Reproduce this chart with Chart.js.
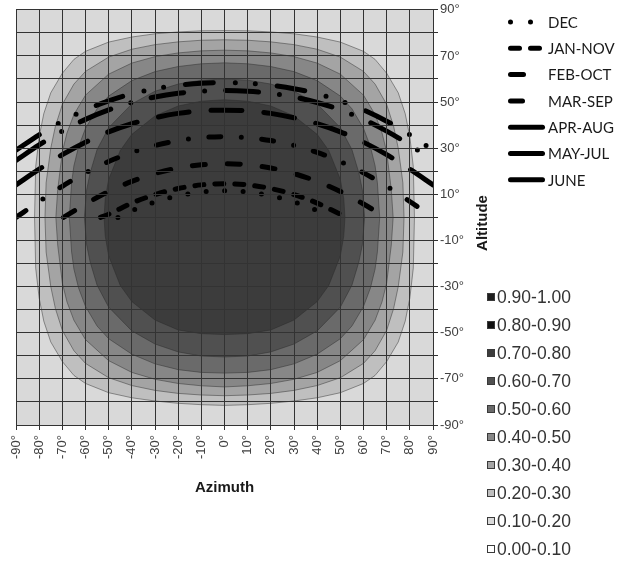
<!DOCTYPE html>
<html>
<head>
<meta charset="utf-8">
<script src="https://cdn.jsdelivr.net/npm/chart.js@4.4.0/dist/chart.umd.min.js"></script>
<style>
  html, body { margin: 0; padding: 0; background: #fff; }
</style>
</head>
<body>
<canvas id="chart" width="619" height="562"></canvas>
<script>
// sun paths, legend order
const months = ['DEC', 'JAN-NOV', 'FEB-OCT', 'MAR-SEP', 'APR-AUG', 'MAY-JUL', 'JUNE'];

const azFull = [-90, -80, -70, -60, -50, -40, -30, -20, -10, 0, 10, 20, 30, 40, 50, 60, 70, 80, 90];
const juneAlt = [29.1, 35.8, 41.7, 46.6, 50.5, 53.6, 55.8, 57.3, 58.2, 58.4, 58.2, 57.3, 55.8, 53.6, 50.5, 46.6, 41.7, 35.8, 29.1];
const mayJulAlt = [24.7, 31.4, 37.4, 42.5, 46.6, 49.8, 52.2, 53.8, 54.7, 55, 54.7, 53.8, 52.2, 49.8, 46.6, 42.5, 37.4, 31.4, 24.7];
const aprAugAlt = [14.1, 20.9, 27.2, 32.6, 37.1, 40.6, 43.2, 45.1, 46.2, 46.5, 46.2, 45.1, 43.2, 40.6, 37.1, 32.6, 27.2, 20.9, 14.1];
const marSepAlt = [0, 6.9, 13.5, 19.3, 24.2, 28.2, 31.2, 33.3, 34.6, 35, 34.6, 33.3, 31.2, 28.2, 24.2, 19.3, 13.5, 6.9, 0];
const febOctAz = [-69.5, -60, -50, -40, -30, -20, -10, 0, 10, 20, 30, 40, 50, 60, 69.5];
const febOctAlt = [0, 5.8, 11.2, 15.6, 19, 21.4, 22.8, 23.3, 22.8, 21.4, 19, 15.6, 11.2, 5.8, 0];
const janNovAz = [-53.5, -50, -40, -30, -20, -10, 0, 10, 20, 30, 40, 50, 53.5];
const janNovAlt = [0, 1.4, 6.2, 9.9, 12.5, 14.1, 14.6, 14.1, 12.5, 9.9, 6.2, 1.4, 0];
const decAz = [-46, -40, -30, -20, -10, 0, 10, 20, 30, 40, 46];
const decAlt = [0, 2.9, 6.7, 9.4, 11, 11.6, 11, 9.4, 6.7, 2.9, 0];

// contour bands (legend classes, top to bottom)
const bandLabels = ['0.90-1.00', '0.80-0.90', '0.70-0.80', '0.60-0.70', '0.50-0.60',
                    '0.40-0.50', '0.30-0.40', '0.20-0.30', '0.10-0.20', '0.00-0.10'];

// contour lines: upper / lower altitude along azimuth
const c20Az = [-82, -81.5, -80, -78, -75, -70, -65, -60, -50, -40, -30, -20, -10, 0, 10, 20, 30, 40, 50, 60, 65, 70, 75, 78, 80, 81.5, 82];
const c20Up = [0, 22, 35, 45, 54, 62.5, 68.5, 72, 76, 78.2, 79.6, 80.4, 80.9, 81, 80.9, 80.4, 79.6, 78.2, 76, 72, 68.5, 62.5, 54, 45, 35, 22, 0];
const c20Lo = [0, -22, -35, -45, -54, -62.5, -68.5, -72, -76, -78.2, -79.6, -80.6, -81.2, -81.5, -81.2, -80.6, -79.6, -78.2, -76, -72, -68.5, -62.5, -54, -45, -35, -22, 0];

const c30Az = [-77.5, -77, -75, -73, -70, -65, -60, -50, -40, -30, -20, -10, 0, 10, 20, 30, 40, 50, 60, 65, 70, 73, 75, 77, 77.5];
const c30Up = [0, 15, 30, 39.5, 49, 57.8, 63.3, 69.5, 72.9, 74.9, 76.1, 76.8, 77, 76.8, 76.1, 74.9, 72.9, 69.5, 63.3, 57.8, 49, 39.5, 30, 15, 0];
const c30Lo = [0, -15, -30, -39.5, -49, -57.8, -63.3, -69.5, -72.9, -75, -76.3, -77, -77.3, -77, -76.3, -75, -72.9, -69.5, -63.3, -57.8, -49, -39.5, -30, -15, 0];

const c40Az = [-72.8, -72, -70, -68, -65, -60, -50, -40, -30, -20, -10, 0, 10, 20, 30, 40, 50, 60, 65, 68, 70, 72, 72.8];
const c40Up = [0, 12, 28.5, 36.6, 44.6, 53, 62.1, 66.9, 69.7, 71.3, 72.2, 72.5, 72.2, 71.3, 69.7, 66.9, 62.1, 53, 44.6, 36.6, 28.5, 12, 0];
const c40Lo = [0, -12, -28.5, -36.6, -44.6, -53, -62.1, -67.2, -70.2, -72, -73, -73.5, -73, -72, -70.2, -67.2, -62.1, -53, -44.6, -36.6, -28.5, -12, 0];

const c50Az = [-67, -66, -65, -63, -60, -55, -50, -40, -30, -20, -10, 0, 10, 20, 30, 40, 50, 55, 60, 63, 65, 66, 67];
const c50Up = [0, 15, 22.4, 30.6, 38.6, 47.1, 52.6, 59.3, 63.2, 65.4, 66.6, 67, 66.6, 65.4, 63.2, 59.3, 52.6, 47.1, 38.6, 30.6, 22.4, 15, 0];
const c50Lo = [0, -15, -22.4, -30.6, -38.6, -47.1, -52.6, -59.3, -63.5, -66, -67.2, -67.5, -67.2, -66, -63.5, -59.3, -52.6, -47.1, -38.6, -30.6, -22.4, -15, 0];

const c60Az = [-60.5, -59.5, -58, -55, -50, -40, -30, -20, -10, 0, 10, 20, 30, 40, 50, 55, 58, 59.5, 60.5];
const c60Up = [0, 12, 19.3, 29.4, 38.9, 49.2, 54.7, 57.8, 59.5, 60, 59.5, 57.8, 54.7, 49.2, 38.9, 29.4, 19.3, 12, 0];
const c60Lo = [0, -12, -19.3, -29.4, -38.9, -49.2, -54.9, -58.3, -60.1, -60.5, -60.1, -58.3, -54.9, -49.2, -38.9, -29.4, -19.3, -12, 0];

const c70Az = [-52, -51.5, -50, -45, -40, -30, -20, -10, 0, 10, 20, 30, 40, 45, 50, 51.5, 52];
const c70Up = [0, 8, 16.5, 29, 36, 44, 48.3, 50.4, 51, 50.4, 48.3, 44, 36, 29, 16.5, 8, 0];
const c70Lo = [0, -8, -16.7, -29.5, -36.5, -44.5, -48.8, -50.4, -50.8, -50.4, -48.8, -44.5, -36.5, -29.5, -16.7, -8, 0];

// styles
const bandColors = ['#1e1e1e', '#111111', '#3c3c3c', '#505050', '#6a6a6a',
                    '#878787', '#a4a4a4', '#bfbfbf', '#d9d9d9', '#ffffff'];
const sunDash = [[0, 18.5], [9, 11], [13, 22], [12, 20.5, 0, 20.5], [31, 22], [33, 21, 0, 21], [28, 22, 0, 20, 0, 22]];
const legendDash = [[0, 20], [9, 11], [], [], [], [], []];
const legendLen = [20.5, 30, 13, 12, 32, 32, 32];

const pts = (xs, ys) => xs.map((x, i) => ({x: x, y: ys[i]}));

const sunAz = [decAz, janNovAz, febOctAz, azFull, azFull, azFull, azFull];
const sunAlt = [decAlt, janNovAlt, febOctAlt, marSepAlt, aprAugAlt, mayJulAlt, juneAlt];

const contours = [
    [c20Az, c20Up, c20Lo, bandColors[7]],
    [c30Az, c30Up, c30Lo, bandColors[6]],
    [c40Az, c40Up, c40Lo, bandColors[5]],
    [c50Az, c50Up, c50Lo, bandColors[4]],
    [c60Az, c60Up, c60Lo, bandColors[3]],
    [c70Az, c70Up, c70Lo, bandColors[2]]
];

const datasets = [];
months.forEach((m, i) => {
    datasets.push({
        label: m,
        data: pts(sunAz[i], sunAlt[i]),
        borderColor: '#000',
        borderWidth: 5,
        borderDash: sunDash[i],
        borderCapStyle: 'round',
        cubicInterpolationMode: 'monotone',
        fill: false,
        order: i
    });
});
contours.forEach((c, k) => {
    const edge = 'rgba(40,40,40,0.45)';
    datasets.push({
        label: 'c' + k + 'up',
        data: pts(c[0], c[1]),
        borderColor: edge,
        borderWidth: 1,
        backgroundColor: c[3],
        fill: '+1',
        tension: 0,
        order: 100 - 2 * k
    });
    datasets.push({
        label: 'c' + k + 'lo',
        data: pts(c[0], c[2]),
        borderColor: edge,
        borderWidth: 1,
        fill: false,
        tension: 0,
        order: 99.5 - 2 * k
    });
});

const tickFont = {family: "'Liberation Sans', Arial, sans-serif", size: 13};
const titleFont = {family: "'Liberation Sans', Arial, sans-serif", size: 15, weight: 'bold'};

const plotBg = {
    id: 'plotBg',
    beforeDraw(chart) {
        const a = chart.chartArea;
        chart.ctx.save();
        chart.ctx.fillStyle = bandColors[8];
        chart.ctx.fillRect(a.left, a.top, a.right - a.left, a.bottom - a.top);
        chart.ctx.restore();
    }
};

const sideLegends = {
    id: 'sideLegends',
    afterDraw(chart) {
        const ctx = chart.ctx;
        ctx.save();
        // y axis title, reads bottom to top
        ctx.translate(483, 223);
        ctx.rotate(-Math.PI / 2);
        ctx.font = "bold 15px 'Liberation Sans', Arial, sans-serif";
        ctx.fillStyle = '#1a1a1a';
        ctx.textAlign = 'center';
        ctx.textBaseline = 'middle';
        ctx.fillText('Altitude', 0, 0);
        ctx.restore();

        // sun path legend
        ctx.save();
        ctx.strokeStyle = '#000';
        ctx.lineWidth = 5;
        ctx.lineCap = 'round';
        ctx.font = "15px Lato, 'Open Sans', sans-serif";
        ctx.fillStyle = '#1a1a1a';
        ctx.textBaseline = 'middle';
        months.forEach((m, i) => {
            const y = 22 + i * 26.3;
            ctx.setLineDash(legendDash[i]);
            ctx.beginPath();
            ctx.moveTo(510.5, y);
            ctx.lineTo(510.5 + legendLen[i], y);
            ctx.stroke();
            ctx.fillText(m, 548, y + 1);
        });
        ctx.restore();

        // band legend
        ctx.save();
        ctx.font = "17.5px 'Liberation Sans', Arial, sans-serif";
        ctx.textBaseline = 'middle';
        ctx.lineWidth = 1;
        bandLabels.forEach((b, i) => {
            const y = 297 + i * 28;
            ctx.fillStyle = bandColors[i];
            ctx.fillRect(487, y - 4, 8, 8);
            ctx.strokeStyle = '#3a3a3a';
            ctx.strokeRect(487.5, y - 3.5, 7, 7);
            ctx.fillStyle = '#333';
            ctx.fillText(b, 497, y + 1);
        });
        ctx.restore();
    }
};

const chart = new Chart(document.getElementById('chart').getContext('2d'), {
    type: 'line',
    data: {datasets: datasets},
    options: {
        responsive: false,
        animation: false,
        events: [],
        layout: {padding: {left: 16, top: 8, right: 129, bottom: 65}},
        elements: {point: {radius: 0}},
        plugins: {legend: {display: false}, tooltip: {enabled: false}},
        scales: {
            x: {
                type: 'linear', min: -90, max: 90, position: 'bottom',
                ticks: {stepSize: 10, autoSkip: false, minRotation: 90, maxRotation: 90,
                        color: '#404040', font: tickFont, padding: 5,
                        callback: v => v + '°'},
                grid: {color: '#333', lineWidth: 1, tickLength: 5, z: 1},
                border: {color: '#333', z: 1},
                title: {display: true, text: 'Azimuth', color: '#1a1a1a', font: titleFont, padding: 0},
                afterFit: s => { s.height = 72; }
            },
            y: {
                type: 'linear', min: -90, max: 90, position: 'right',
                ticks: {stepSize: 10, autoSkip: false, color: '#404040', font: tickFont, padding: 2,
                        callback: v => ((v + 90) % 20 === 0 ? v + '°' : '')},
                grid: {color: '#333', lineWidth: 1, tickLength: 5, z: 1},
                border: {color: '#333', z: 1},
                afterFit: s => { s.width = 57; }
            }
        }
    },
    plugins: [plotBg, sideLegends]
});
</script>
</body>
</html>
